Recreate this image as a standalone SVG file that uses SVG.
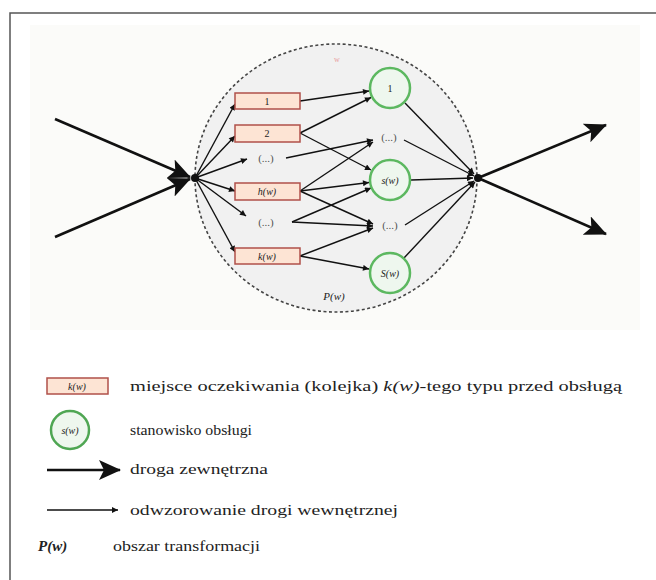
<svg xmlns="http://www.w3.org/2000/svg" width="656" height="580" viewBox="0 0 656 580" font-family="'Liberation Serif', 'DejaVu Serif', serif">
<style>
text{font-family:"Liberation Serif","DejaVu Serif",serif;fill:#222}
.q{fill:#fde4d4;stroke:#b0504a;stroke-width:1.5}
.s{fill:#eef7ee;stroke:#5cb860;stroke-width:2.5}
.c{stroke:#111;stroke-width:1.4;fill:none;marker-end:url(#sm)}
.big{stroke:#111;stroke-width:2.6;fill:none;marker-end:url(#bg)}
.lbl{font-size:10px;text-anchor:middle}
.dots{font-size:11px;text-anchor:middle;fill:#555}
.it{font-style:italic}
.leg{font-size:15px}
</style>
<defs>
<marker id="sm" viewBox="0 0 10 10" refX="10" refY="5" markerWidth="8" markerHeight="6" markerUnits="userSpaceOnUse" orient="auto"><path d="M0,0 L10,5 L0,10 z" fill="#111"/></marker>
<marker id="bg" viewBox="0 0 22 20" refX="21" refY="10" markerWidth="22" markerHeight="20" markerUnits="userSpaceOnUse" orient="auto"><path d="M0,0 L22,10 L0,20 L5,10 z" fill="#111"/></marker>
</defs>
<rect x="0" y="0" width="656" height="580" fill="#fff"/>
<path d="M10,580 V13 H656" fill="none" stroke="#555" stroke-width="1.5"/>
<rect x="30" y="25" width="610" height="305" fill="#fbfbf9"/>
<g id="area">
<ellipse cx="336" cy="178" rx="141" ry="134" fill="#f1f1f1" stroke="#444" stroke-width="1.6" stroke-dasharray="3,2.5"/>
<text x="337" y="62" font-size="8" style="fill:#e8a0a0" text-anchor="middle">w</text>
<text x="334" y="300" class="lbl it" style="font-size:11px">P(w)</text>
</g>
<g id="connectors">
<line class="big" x1="55" y1="119" x2="190" y2="177"/>
<line class="big" x1="55" y1="237" x2="190" y2="179"/>
<line class="big" x1="478" y1="178" x2="606" y2="125"/>
<line class="big" x1="478" y1="178" x2="606" y2="234"/>
<line class="c" x1="195" y1="178" x2="235" y2="104"/>
<line class="c" x1="195" y1="178" x2="235" y2="136"/>
<line class="c" x1="195" y1="178" x2="247" y2="159"/>
<line class="c" x1="195" y1="178" x2="235" y2="191"/>
<line class="c" x1="195" y1="178" x2="246" y2="216"/>
<line class="c" x1="195" y1="178" x2="235" y2="252"/>
<line class="c" x1="300" y1="101" x2="369" y2="91"/>
<line class="c" x1="300" y1="133" x2="371" y2="97.5"/>
<line class="c" x1="300" y1="133" x2="371" y2="170"/>
<line class="c" x1="286" y1="158" x2="373" y2="140"/>
<line class="c" x1="300" y1="191" x2="373" y2="142"/>
<line class="c" x1="300" y1="191" x2="369" y2="182.5"/>
<line class="c" x1="300" y1="191" x2="373" y2="224"/>
<line class="c" x1="292" y1="222" x2="371" y2="188"/>
<line class="c" x1="292" y1="222" x2="373" y2="226"/>
<line class="c" x1="300" y1="256" x2="373" y2="228"/>
<line class="c" x1="300" y1="256" x2="369" y2="269"/>
<line class="c" x1="405" y1="103" x2="474" y2="174"/>
<line class="c" x1="404" y1="140" x2="474" y2="176"/>
<line class="c" x1="411" y1="180" x2="473" y2="178"/>
<line class="c" x1="405" y1="225" x2="474" y2="181"/>
<line class="c" x1="404" y1="258" x2="475" y2="182"/>
<circle cx="195" cy="178" r="4" fill="#111"/>
<circle cx="478" cy="178" r="4" fill="#111"/>
</g>
<g id="q1"><rect class="q" x="235" y="93" width="65" height="16"/><text class="lbl" x="267" y="105">1</text></g>
<g id="q2"><rect class="q" x="235" y="125" width="65" height="17"/><text class="lbl" x="267" y="137">2</text></g>
<g id="qd1"><text class="dots" x="266" y="162">(...)</text></g>
<g id="qh"><rect class="q" x="235" y="183" width="65" height="17"/><text class="lbl it" x="267" y="195">h(w)</text></g>
<g id="qd2"><text class="dots" x="266" y="226">(...)</text></g>
<g id="qk"><rect class="q" x="235" y="248" width="65" height="16"/><text class="lbl it" x="267" y="260">k(w)</text></g>
<g id="s1"><circle class="s" cx="390" cy="88" r="20"/><text class="lbl" x="390" y="92">1</text></g>
<g id="sd1"><text class="dots" x="389" y="141">(...)</text></g>
<g id="sw"><circle class="s" cx="390" cy="180" r="20"/><text class="lbl it" x="390" y="184">s(w)</text></g>
<g id="sd2"><text class="dots" x="390" y="229">(...)</text></g>
<g id="SW"><circle class="s" cx="390" cy="273" r="20"/><text class="lbl it" x="390" y="277">S(w)</text></g>
<g id="legend">
<g id="leg-q"><rect class="q" x="47" y="378" width="61" height="16"/><text class="lbl it" x="77" y="390">k(w)</text>
<text class="leg" x="130" y="391" textLength="492" lengthAdjust="spacingAndGlyphs">miejsce oczekiwania (kolejka) <tspan font-style="italic">k(w)</tspan>-tego typu przed obsługą</text></g>
<g id="leg-s"><circle class="s" cx="70" cy="430" r="19" style="stroke:#4fa653"/><text class="lbl it" x="70" y="434">s(w)</text>
<text class="leg" x="130" y="435" textLength="122" lengthAdjust="spacingAndGlyphs">stanowisko obsługi</text></g>
<g id="leg-ext"><line class="big" x1="47" y1="470" x2="120" y2="470" stroke-width="4"/>
<text class="leg" x="130" y="474" textLength="138" lengthAdjust="spacingAndGlyphs">droga zewnętrzna</text></g>
<g id="leg-int"><line class="c" x1="47" y1="510" x2="118" y2="510"/>
<text class="leg" x="130" y="515" textLength="268" lengthAdjust="spacingAndGlyphs">odwzorowanie drogi wewnętrznej</text></g>
<g id="leg-p"><text class="leg" x="38" y="551" font-weight="bold" font-style="italic">P(w)</text>
<text class="leg" x="113" y="551" textLength="147" lengthAdjust="spacingAndGlyphs">obszar transformacji</text></g>
</g>
</svg>
